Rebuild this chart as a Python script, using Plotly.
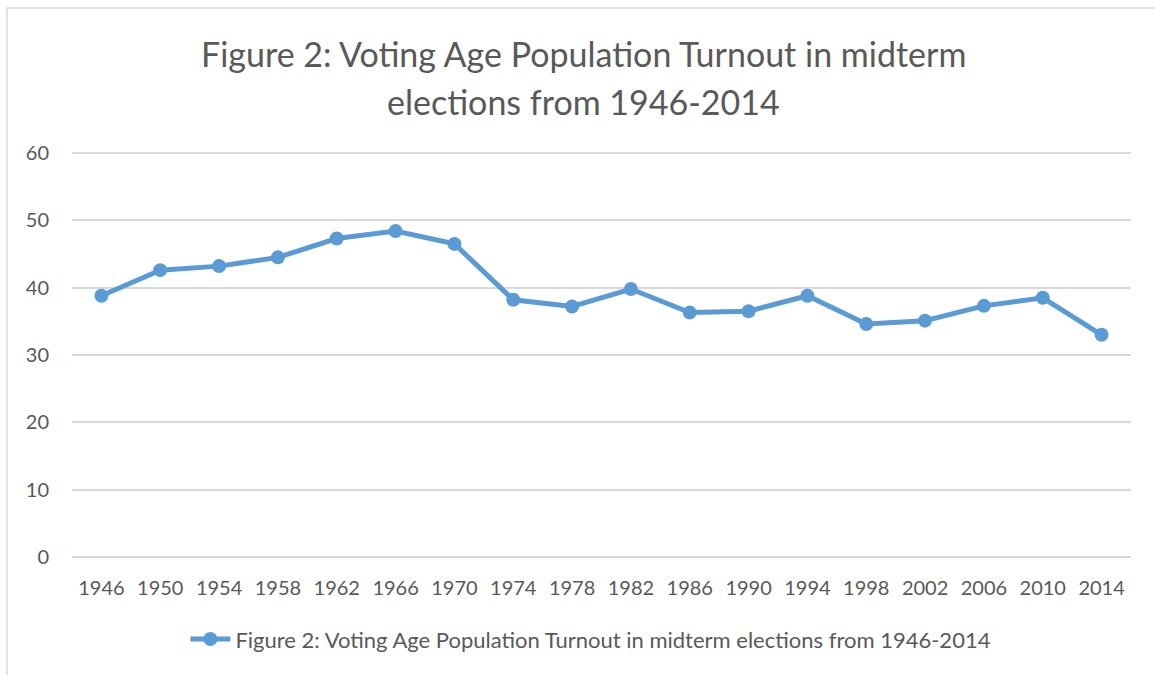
import plotly.graph_objects as go

# Midterm election years and voting-age-population turnout (%)
years = ["1946", "1950", "1954", "1958", "1962", "1966", "1970", "1974", "1978",
         "1982", "1986", "1990", "1994", "1998", "2002", "2006", "2010", "2014"]
turnout = [38.8, 42.6, 43.2, 44.5, 47.3, 48.4, 46.5, 38.2, 37.2,
           39.8, 36.3, 36.5, 38.8, 34.6, 35.1, 37.3, 38.5, 33.0]
y_ticks = [0, 10, 20, 30, 40, 50, 60]

series_name = "Figure 2: Voting Age Population Turnout in midterm elections from 1946-2014"
title_lines = ["Figure 2: Voting Age Population Turnout in midterm",
               "elections from 1946-2014"]

BLUE = "#5B9BD5"
TEXT = "#595959"
GRID = "#D9D9D9"
FONT = "Lato, 'Open Sans', sans-serif"

W, H = 1155, 675
L, R, T, B = 72, 24, 152, 117

fig = go.Figure()
fig.add_trace(go.Scatter(
    x=years, y=turnout, mode="lines+markers", name=series_name,
    line=dict(color=BLUE, width=5),
    marker=dict(color=BLUE, size=14),
))

plot_w = W - L - R
plot_h = H - T - B


def px_to_paper_x(px):
    return (px - L) / plot_w


def px_to_paper_y(py):
    return (H - B - py) / plot_h


# chart-area frame (left and top edges visible)
fig.add_shape(type="rect", xref="paper", yref="paper",
              x0=px_to_paper_x(7), x1=1.2, y0=-1, y1=px_to_paper_y(8),
              line=dict(color="#D9D9D9", width=1.5), layer="below")

# two-line chart title
for line_text, cy in zip(title_lines, [54, 101]):
    fig.add_annotation(text=line_text, xref="paper", yref="paper",
                       x=px_to_paper_x(583), y=px_to_paper_y(cy),
                       xanchor="center", yanchor="middle", showarrow=False,
                       font=dict(size=34, color=TEXT, family=FONT))

fig.update_layout(
    width=W, height=H,
    margin=dict(l=L, r=R, t=T, b=B),
    paper_bgcolor="white", plot_bgcolor="white",
    font=dict(family=FONT, color=TEXT, size=20),
    xaxis=dict(type="category", range=[-0.5, len(years) - 0.5],
               showgrid=False, zeroline=False, showline=False,
               ticks="", tickfont=dict(size=20, color=TEXT), ticklabelstandoff=16),
    yaxis=dict(range=[-0.15, 60.15], tickvals=y_ticks, showgrid=True, gridcolor=GRID,
               gridwidth=2, zeroline=False, showline=False, ticks="",
               tickfont=dict(size=20, color=TEXT), ticklabelstandoff=22),
    showlegend=True,
    legend=dict(orientation="h", x=0.49, xanchor="center", y=-0.2,
                yanchor="middle", font=dict(size=22, color=TEXT),
                itemwidth=40),
)

fig.write_html("out.html")
